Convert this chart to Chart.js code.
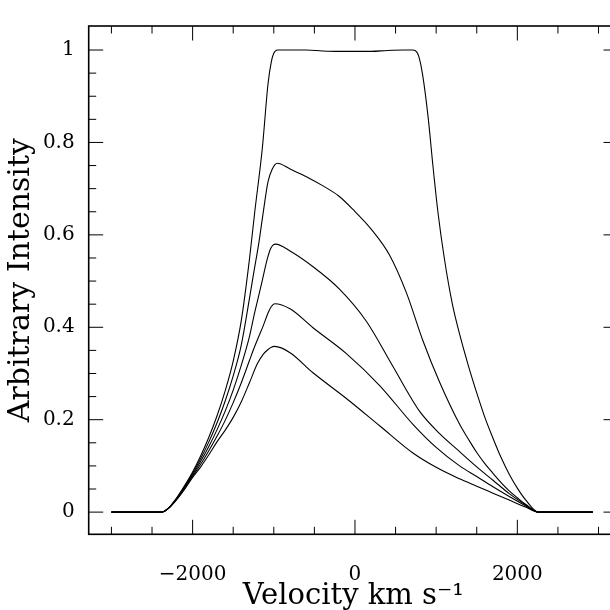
<!DOCTYPE html>
<html>
<head>
<meta charset="utf-8">
<script src="https://cdn.jsdelivr.net/npm/chart.js@4"></script>
<style>
  html, body { margin: 0; padding: 0; background: #fff; overflow: hidden; }
  #wrap { position: absolute; left: 0; top: 0; width: 630px; height: 610px; }
</style>
</head>
<body>
<div id="wrap"><canvas id="chart"></canvas></div>
<script>
// line profiles, velocity in km/s vs intensity (top curve first)
const vel1 = [-3000, -2380, -2300, -2200, -2100, -2000, -1900, -1800, -1700, -1600, -1500, -1400, -1300, -1235, -1141, -1071, -1030, -1000, -956, -800, -600, -400, -200, 0, 200, 400, 600, 714, 760, 788, 830, 899, 960, 1022, 1100, 1200, 1289, 1400, 1500, 1600, 1700, 1800, 1900, 2000, 2100, 2260, 2930];
const int1 = [0, 0, 0.008, 0.030, 0.057, 0.087, 0.122, 0.162, 0.208, 0.262, 0.327, 0.415, 0.547, 0.649, 0.788, 0.927, 0.975, 0.993, 1.0, 1.0, 1.0, 0.998, 0.997, 0.997, 0.997, 0.999, 1.0, 1.0, 0.996, 0.985, 0.95, 0.858, 0.75, 0.649, 0.55, 0.45, 0.385, 0.315, 0.258, 0.205, 0.16, 0.118, 0.082, 0.052, 0.027, 0, 0];

const vel2 = [-3000, -2380, -2300, -2200, -2100, -2000, -1900, -1800, -1700, -1600, -1500, -1400, -1300, -1250, -1182, -1133, -1071, -1020, -956, -804, -599, -394, -200, -25, 202, 427, 633, 837, 1043, 1289, 1400, 1500, 1600, 1700, 1800, 1900, 2000, 2100, 2260, 2930];
const int2 = [0, 0, 0.008, 0.029, 0.055, 0.084, 0.116, 0.152, 0.193, 0.240, 0.295, 0.362, 0.462, 0.515, 0.585, 0.645, 0.715, 0.742, 0.755, 0.743, 0.726, 0.706, 0.684, 0.655, 0.612, 0.556, 0.475, 0.371, 0.281, 0.19, 0.157, 0.129, 0.105, 0.084, 0.064, 0.046, 0.031, 0.017, 0, 0];

const vel3 = [-3000, -2380, -2300, -2200, -2100, -2000, -1900, -1800, -1700, -1600, -1500, -1400, -1300, -1235, -1150, -1080, -1040, -1010, -976, -800, -517, -188, 140, 468, 797, 1043, 1289, 1500, 1700, 1900, 2100, 2260, 2930];
const int3 = [0, 0, 0.008, 0.028, 0.053, 0.081, 0.110, 0.142, 0.178, 0.218, 0.264, 0.318, 0.38, 0.432, 0.495, 0.548, 0.570, 0.578, 0.58, 0.565, 0.531, 0.482, 0.413, 0.315, 0.218, 0.17, 0.131, 0.098, 0.069, 0.040, 0.016, 0, 0];

const vel4 = [-3000, -2380, -2300, -2200, -2100, -2000, -1900, -1800, -1700, -1600, -1500, -1400, -1300, -1250, -1190, -1133, -1071, -1030, -989, -800, -517, -106, 304, 714, 1000, 1289, 1500, 1700, 1900, 2100, 2260, 2930];
const int4 = [0, 0, 0.008, 0.027, 0.051, 0.078, 0.104, 0.133, 0.164, 0.198, 0.237, 0.280, 0.328, 0.352, 0.378, 0.402, 0.431, 0.445, 0.451, 0.44, 0.399, 0.343, 0.274, 0.19, 0.14, 0.1, 0.077, 0.055, 0.034, 0.014, 0, 0];

const vel5 = [-3000, -2380, -2300, -2200, -2100, -2000, -1900, -1800, -1700, -1600, -1500, -1400, -1300, -1200, -1133, -1071, -1030, -989, -800, -517, -106, 304, 714, 1000, 1289, 1500, 1700, 1900, 2100, 2260, 2930];
const int5 = [0, 0, 0.008, 0.026, 0.049, 0.075, 0.098, 0.124, 0.152, 0.177, 0.205, 0.239, 0.280, 0.322, 0.341, 0.352, 0.357, 0.3586, 0.345, 0.3015, 0.246, 0.187, 0.128, 0.097, 0.072, 0.056, 0.041, 0.026, 0.011, 0, 0];

const xTicks = [-2000, 0, 2000];
const yTicks = [0, 0.2, 0.4, 0.6, 0.8, 1];

const FONT = 'DejaVu Serif';

const profiles = [[vel1, int1], [vel2, int2], [vel3, int3], [vel4, int4], [vel5, int5]];

// box with inward ticks on all four sides, like the old plotting packages
const framePlugin = {
  id: 'frame',
  afterDraw(chart) {
    const { ctx, chartArea: a, scales: { x, y } } = chart;
    const seg = (x1, y1, x2, y2) => { ctx.beginPath(); ctx.moveTo(x1, y1); ctx.lineTo(x2, y2); ctx.stroke(); };
    ctx.save();
    ctx.strokeStyle = '#000';
    ctx.lineWidth = 1;
    for (let v = -3000; v <= 3000; v += 500) {
      const px = x.getPixelForValue(v);
      const len = v % 2000 === 0 ? 14.5 : 7.5;
      seg(px, a.bottom, px, a.bottom - len);
      seg(px, a.top, px, a.top + len);
    }
    for (let k = 0; k <= 20; k++) {
      const py = y.getPixelForValue(k * 0.05);
      const len = k % 4 === 0 ? 14.5 : 7.5;
      seg(a.left, py, a.left + len, py);
      seg(a.right, py, a.right - len, py);
    }
    ctx.lineWidth = 1.6;
    ctx.strokeRect(a.left, a.top, a.right - a.left, a.bottom - a.top);
    ctx.restore();
  }
};

new Chart(document.getElementById('chart'), {
  type: 'line',
  data: {
    datasets: profiles.map(([v, f]) => ({
      data: v.map((vv, i) => ({ x: vv, y: f[i] })),
      borderColor: '#000',
      borderWidth: 1.1,
      pointRadius: 0,
      fill: false,
      cubicInterpolationMode: 'monotone'
    }))
  },
  options: {
    responsive: true,
    maintainAspectRatio: false,
    animation: false,
    layout: { padding: { top: 6.7, right: 12, left: 0, bottom: 0 } },
    plugins: { legend: { display: false }, tooltip: { enabled: false } },
    scales: {
      x: {
        type: 'linear',
        min: -3280,
        max: 3240,
        grid: { display: false, drawTicks: false },
        border: { display: false },
        afterBuildTicks: s => { s.ticks = xTicks.map(v => ({ value: v })); },
        afterFit: s => { s.height = 75.7; },
        ticks: {
          color: '#000',
          font: { family: FONT, size: 20 },
          padding: 28,
          maxRotation: 0,
          autoSkip: false,
          callback: v => v < 0 ? '\u2212' + Math.abs(v) : String(v)
        },
        title: {
          display: true,
          text: 'Velocity km s\u207B\u00B9',
          color: '#000',
          font: { family: FONT, size: 29, lineHeight: 0.95 },
          padding: { top: 0, bottom: 0 }
        }
      },
      y: {
        type: 'linear',
        min: -0.048,
        max: 1.052,
        grid: { display: false, drawTicks: false },
        border: { display: false },
        afterBuildTicks: s => { s.ticks = yTicks.map(v => ({ value: v })); },
        afterFit: s => { s.width = 88.7; },
        ticks: {
          color: '#000',
          font: { family: FONT, size: 20 },
          padding: 14,
          callback: v => String(v)
        },
        title: {
          display: true,
          text: 'Arbitrary Intensity',
          color: '#000',
          font: { family: FONT, size: 30, lineHeight: 1 },
          padding: { top: 6, bottom: 0 }
        }
      }
    }
  },
  plugins: [framePlugin]
});
</script>
</body>
</html>
